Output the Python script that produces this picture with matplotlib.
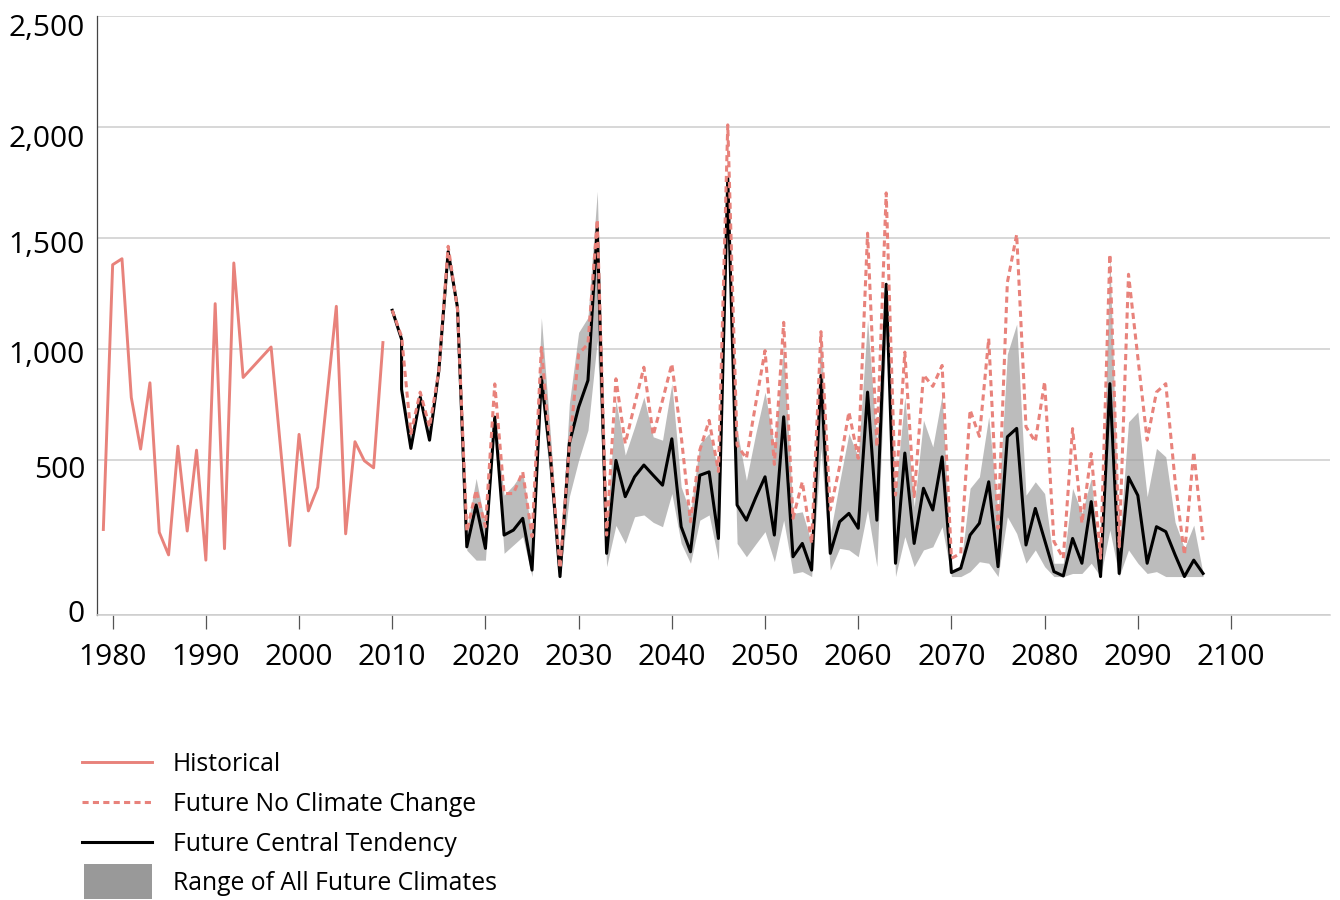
import numpy as np
import matplotlib
matplotlib.use("Agg")
import matplotlib.pyplot as plt
from matplotlib.lines import Line2D
from matplotlib.patches import Patch, Rectangle
from matplotlib.legend_handler import HandlerPatch
from matplotlib.ticker import FuncFormatter, FixedLocator
import matplotlib.transforms as mtransforms

plt.rcParams['font.family'] = ['Open Sans', 'DejaVu Sans']

# ---------------- data ----------------
hist_years = [1979, 1980, 1981, 1982, 1983, 1984, 1985, 1986, 1987, 1988, 1989, 1990,
              1991, 1992, 1993, 1994, 1997, 1999, 2000, 2001, 2002, 2004, 2005, 2006,
              2007, 2008, 2009]
hist_vals = [277, 1380, 1407, 783, 551, 849, 268, 195, 564, 272, 546, 178,
             1205, 215, 1388, 873, 1010, 225, 617, 337, 413, 1193, 263, 584,
             499, 476, 1030]

future_years = list(range(2010, 2098))
no_cc_vals = [1175, 1057, 620, 807, 650, 904, 1463, 1180, 270, 404,
              286, 844, 393, 393, 463, 254, 1008, 520, 152, 560,
              979, 1024, 1583, 259, 867, 576, 750, 919, 613, 770,
              934, 611, 302, 546, 680, 464, 2009, 569, 509, 755,
              994, 487, 1121, 313, 431, 232, 1079, 340, 480, 718,
              509, 1522, 561, 1703, 388, 987, 383, 885, 833, 927,
              184, 200, 727, 608, 1048, 281, 1300, 1516, 651, 584,
              854, 238, 184, 643, 297, 531, 184, 1427, 221, 1337,
              964, 591, 807, 845, 433, 195, 539, 243]

central_years = [2010, 2011, 2011] + list(range(2012, 2098))
central_vals = [1175, 1045, 820, 554, 785, 591, 904, 1440, 1187, 221, 356,
                216, 695, 259, 275, 313, 146, 874, 500, 125, 576,
                740, 860, 1546, 200, 500, 383, 447, 485, 452, 420,
                597, 286, 205, 452, 463, 248, 1770, 356, 307, 380,
                447, 259, 696, 189, 232, 146, 882, 200, 302, 329,
                281, 807, 307, 1292, 168, 533, 232, 410, 340, 516,
                138, 152, 259, 297, 431, 157, 606, 644, 227, 345,
                243, 141, 127, 248, 168, 367, 125, 845, 135, 446,
                387, 168, 286, 270, 195, 125, 178, 135]

range_years = list(range(2018, 2098))
range_low = [210, 178, 178, 690, 200, 227, 254, 125, 800, 420,
             120, 383, 501, 636, 1039, 157, 290, 232, 318, 324,
             300, 286, 393, 232, 168, 307, 324, 178, 1700, 232,
             189, 230, 270, 173, 307, 135, 141, 125, 555, 146,
             216, 211, 189, 340, 157, 1100, 125, 254, 157, 211,
             221, 286, 125, 125, 141, 173, 168, 125, 318, 264,
             168, 211, 157, 125, 125, 135, 135, 168, 125, 275,
             125, 211, 168, 135, 141, 125, 125, 125, 125, 125]
range_high = [275, 442, 290, 700, 388, 420, 463, 254, 1142, 600,
              155, 755, 1076, 1143, 1710, 286, 770, 524, 650, 785,
              606, 591, 845, 415, 329, 576, 621, 470, 1780, 636,
              436, 620, 807, 561, 1012, 329, 334, 232, 1091, 264,
              430, 621, 516, 1131, 576, 1310, 400, 785, 350, 681,
              561, 794, 146, 160, 410, 447, 696, 329, 979, 1113,
              388, 431, 393, 168, 168, 410, 329, 442, 140, 1419,
              221, 673, 718, 383, 554, 516, 300, 216, 291, 135]

y_ticks = [0, 500, 1000, 1500, 2000, 2500]
x_ticks = [1980, 1990, 2000, 2010, 2020, 2030, 2040, 2050, 2060, 2070, 2080, 2090, 2100]
legend_labels = ["Historical", "Future No Climate Change",
                 "Future Central Tendency", "Range of All Future Climates"]

PINK = "#E8827B"
GRID = "#CDCDCD"

# piecewise-linear value axis (0-500 is stretched as in the original)
def fwd(v):
    v = np.asarray(v, dtype=float)
    return np.where(v <= 500, v * 0.31, 155 + (v - 500) * 0.2225)

def inv(u):
    u = np.asarray(u, dtype=float)
    return np.where(u <= 155, u / 0.31, 500 + (u - 155) / 0.2225)

fig = plt.figure(figsize=(13.4, 9), dpi=100)
ax = fig.add_axes([97 / 1340, 1 - 615.3 / 900, (1330 - 97) / 1340, (615.3 - 15.7) / 900])
ax.set_yscale('function', functions=(fwd, inv))
ax.set_ylim(0, 2500)
ax.set_xlim(1978.32, 2110.62)

ax.fill_between(range_years, range_low, range_high, color="#999999", alpha=0.65,
                linewidth=0, zorder=2)
ax.plot(central_years, central_vals, color="black", lw=2.2, zorder=3)
ax.plot(future_years, no_cc_vals, color=PINK, lw=2.2, dashes=(2.0, 1.4), zorder=4)
ax.plot(hist_years, hist_vals, color=PINK, lw=2.1, zorder=4)

# axes styling
ax.yaxis.set_major_locator(FixedLocator(y_ticks))
ax.yaxis.set_major_formatter(FuncFormatter(lambda v, p: f"{int(round(v)):,}"))
ax.xaxis.set_major_locator(FixedLocator(x_ticks))
ax.grid(axis='y', color=GRID, lw=1.1, zorder=0)
ax.set_axisbelow(True)
for s in ['top', 'right']:
    ax.spines[s].set_visible(False)
ax.spines['left'].set_color('#444444')
ax.spines['left'].set_linewidth(0.9)
ax.spines['bottom'].set_color(GRID)
ax.spines['bottom'].set_linewidth(1.1)
ax.tick_params(axis='y', length=0, pad=8.6, labelsize=21.5, colors='black')
ax.tick_params(axis='x', length=10, width=0.9, color='#555555', pad=10,
               labelsize=21.5, labelcolor='black')

# small vertical label shifts (pixels, downward) as in the original
label_shift_px = [-4, 7, 3, 4, 9, 9]
for lab, dy in zip(ax.get_yticklabels(), label_shift_px):
    off = mtransforms.ScaledTranslation(0, -dy / 100, fig.dpi_scale_trans)
    lab.set_transform(lab.get_transform() + off)


def tall_rect(legend, orig_handle, xdescent, ydescent, width, height, fontsize):
    c = (height - ydescent) / 2
    return Rectangle((-xdescent + 1.7, c - 12.6), width - 1.7, 25.2)


handles = [Line2D([], [], color=PINK, lw=2.1),
           Line2D([], [], color=PINK, lw=2.2, dashes=(2.0, 1.4)),
           Line2D([], [], color="black", lw=2.2),
           Patch(facecolor="#999999", edgecolor='none')]
fig.legend(handles, legend_labels, loc='upper left',
           bbox_to_anchor=(81.7 / 1340, 1 - 752 / 900), frameon=False,
           fontsize=17.8, handlelength=2.83, handletextpad=0.85,
           labelspacing=0.6, borderpad=0, borderaxespad=0,
           handler_map={Patch: HandlerPatch(patch_func=tall_rect)})

fig.savefig("out.png", dpi=100, facecolor='white')
